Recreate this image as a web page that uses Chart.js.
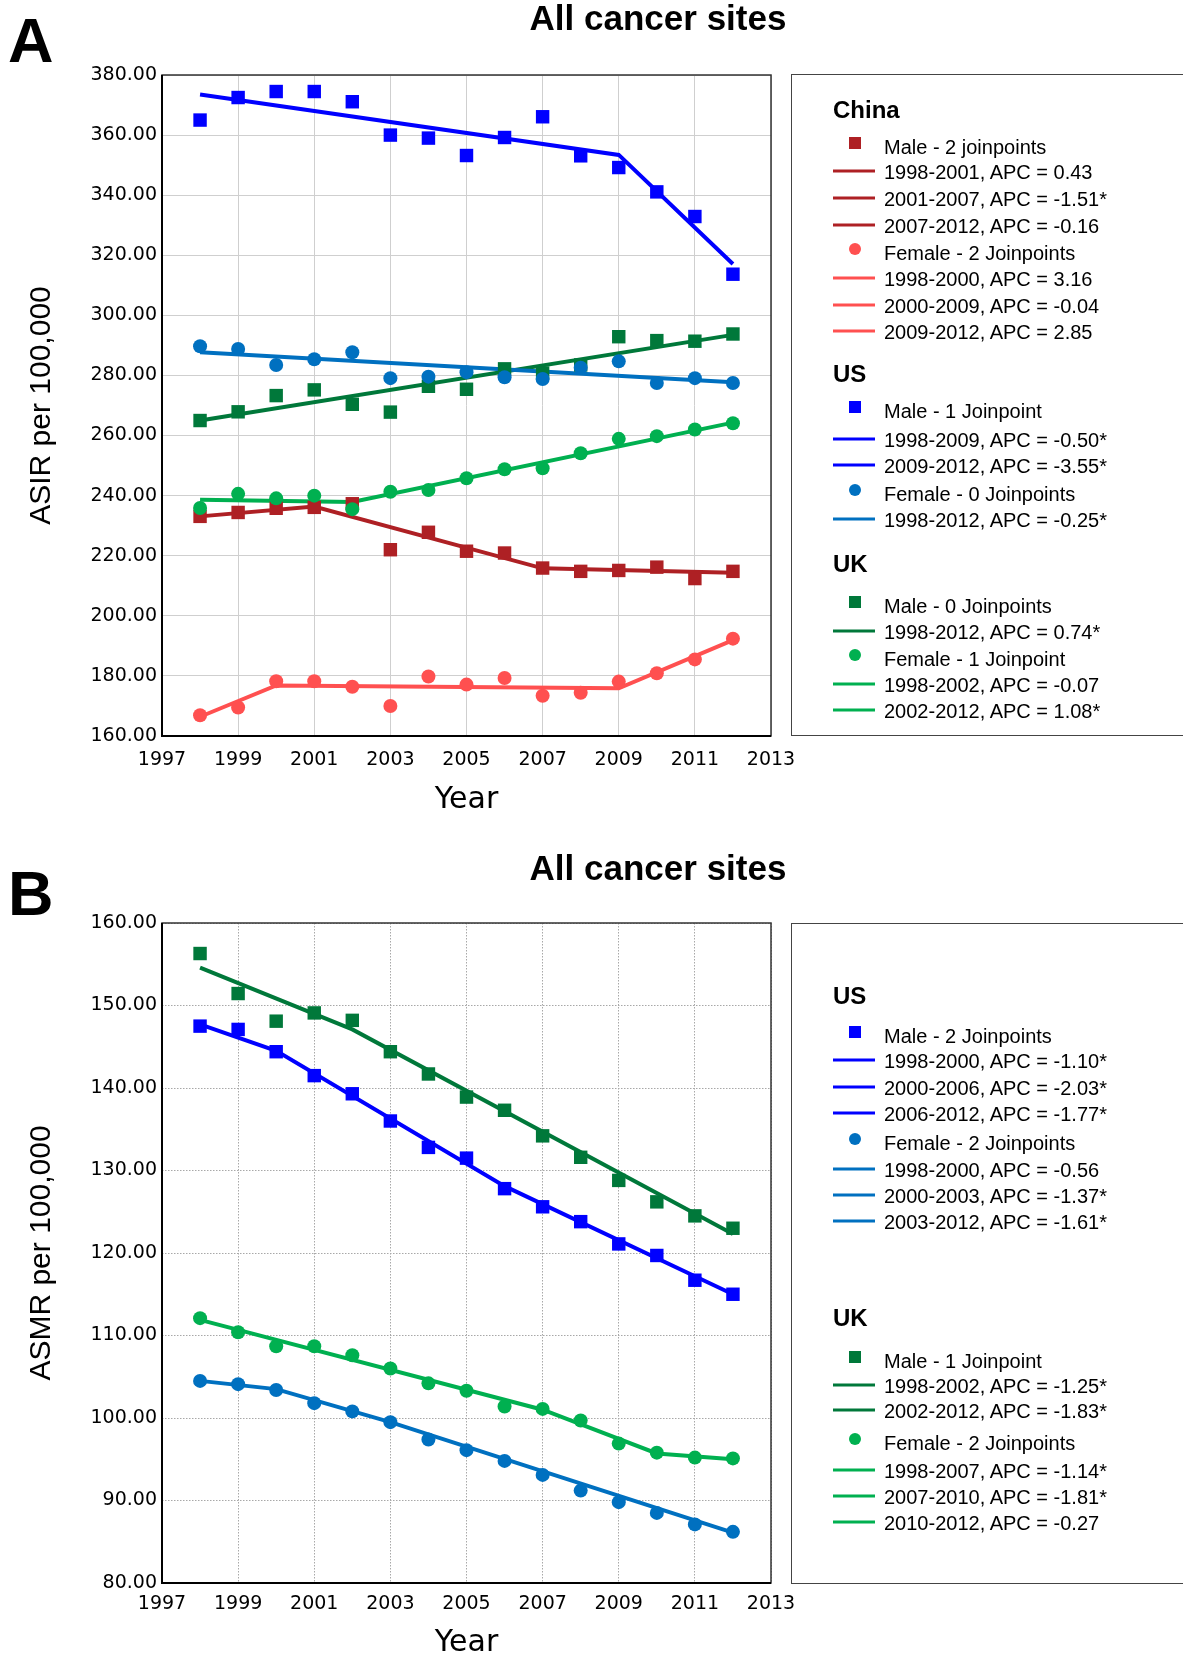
<!DOCTYPE html>
<html><head><meta charset="utf-8">
<script src="https://cdn.jsdelivr.net/npm/chart.js@4"></script>
<style>
html,body{margin:0;padding:0;background:#fff;}
body{width:1183px;height:1657px;overflow:hidden;position:relative;font-family:'Liberation Sans',Arial,sans-serif;color:#000;}
canvas{position:absolute;left:0;}
.letter{position:absolute;font-weight:bold;font-size:63px;line-height:1;}
.title{position:absolute;font-weight:bold;font-size:35px;line-height:1;transform:translate(-50%,-50%);white-space:nowrap;}
.legend{position:absolute;left:791px;width:420px;border:1.5px solid #444;box-sizing:border-box;background:transparent;}
.row{position:absolute;white-space:nowrap;line-height:1;transform:translateY(-50%);}
.txt{font-size:20px;left:92px;}
.hdr{font-size:24px;font-weight:bold;left:41px;}
.mk{position:absolute;transform:translate(-50%,-50%);}
.ln{position:absolute;height:3px;transform:translateY(-50%);}
</style>
</head><body>
<canvas id="cA" width="830" height="820" style="top:0px;width:830px;height:820px"></canvas>
<canvas id="cB" width="830" height="817" style="top:840px;width:830px;height:817px"></canvas>
<div class="letter" style="left:8px;top:9px">A</div>
<div class="letter" style="left:8px;top:862px">B</div>
<div class="title" style="left:658px;top:17px">All cancer sites</div>
<div class="title" style="left:658px;top:867px">All cancer sites</div>
<div class="legend" id="legA" style="top:74px;height:662px"></div>
<div class="legend" id="legB" style="top:923px;height:661px"></div>
<script>
// ---------- data ----------
const years = [1998,1999,2000,2001,2002,2003,2004,2005,2006,2007,2008,2009,2010,2011,2012];
const xTicks = [1997,1999,2001,2003,2005,2007,2009,2011,2013];
const yTicksA = [160,180,200,220,240,260,280,300,320,340,360,380];
const yTicksB = [80,90,100,110,120,130,140,150,160];

// Panel A: ASIR (observed)
const cnMaleA   = [233.1,234.4,235.8,236.1,237.3,222.0,227.8,221.5,220.9,215.9,214.8,215.1,216.2,212.4,214.8];
const cnFemaleA = [166.9,169.5,178.2,178.2,176.4,170.0,179.8,177.1,179.3,173.4,174.4,178.1,180.9,185.5,192.4];
const usMaleA   = [365.0,372.5,374.5,374.5,371.1,360.0,359.0,353.2,359.2,366.1,353.1,349.2,341.1,332.9,313.7];
const usFemaleA = [289.7,288.8,283.5,285.4,287.7,279.1,279.6,281.1,279.4,278.8,282.6,284.7,277.5,279.1,277.5];
const ukMaleA   = [265.0,267.9,273.3,275.2,270.4,267.8,276.4,275.4,282.2,280.8,283.5,292.9,291.6,291.4,293.8];
const ukFemaleA = [235.9,240.6,239.1,240.0,235.5,241.3,241.9,245.8,248.8,249.1,254.1,258.9,259.8,262.0,264.1];
// Panel A: joinpoint fits (years, values)
const cnMaleFitYA = [1998,2001,2007,2012],   cnMaleFitA = [233.1,236.4,215.8,214.3];
const cnFemaleFitYA = [1998,2000,2009,2012], cnFemaleFitA = [166.4,176.8,175.9,191.9];
const usMaleFitYA = [1998,2009,2012],        usMaleFitA = [373.5,353.4,317.1];
const usFemaleFitYA = [1998,2012],           usFemaleFitA = [287.7,277.7];
const ukMaleFitYA = [1998,2012],             ukMaleFitA = [265.0,293.5];
const ukFemaleFitYA = [1998,2002,2012],      ukFemaleFitA = [238.6,237.9,264.3];

// Panel B: ASMR (observed)
const usMaleB   = [147.5,147.1,144.4,141.5,139.3,136.0,132.8,131.5,127.8,125.6,123.8,121.1,119.7,116.7,115.0];
const usFemaleB = [104.5,104.1,103.4,101.8,100.8,99.5,97.4,96.1,94.8,93.1,91.2,89.8,88.5,87.1,86.2];
const ukMaleB   = [156.3,151.45,148.1,149.1,148.2,144.4,141.7,138.9,137.3,134.2,131.6,128.8,126.2,124.5,123.0];
const ukFemaleB = [112.1,110.4,108.7,108.7,107.6,106.0,104.2,103.3,101.4,101.1,99.7,96.9,95.8,95.2,95.1];
// Panel B: joinpoint fits
const usMaleFitYB = [1998,2000,2006,2012],   usMaleFitB = [147.7,144.5,128.1,115.0];
const usFemaleFitYB = [1998,2000,2003,2012], usFemaleFitB = [104.5,103.5,99.5,86.1];
const ukMaleFitYB = [1998,2002,2012],        ukMaleFitB = [154.6,147.1,122.3];
const ukFemaleFitYB = [1998,2007,2010,2012], ukFemaleFitB = [111.9,101.0,95.7,95.0];

// legend texts
const legendA = [
  ['h','','China'],
  ['rect','cnM','Male - 2 joinpoints'],
  ['line','cnM','1998-2001, APC = 0.43'],
  ['line','cnM','2001-2007, APC = -1.51*'],
  ['line','cnM','2007-2012, APC = -0.16'],
  ['circle','cnF','Female - 2 Joinpoints'],
  ['line','cnF','1998-2000, APC = 3.16'],
  ['line','cnF','2000-2009, APC = -0.04'],
  ['line','cnF','2009-2012, APC = 2.85'],
  ['h','','US'],
  ['rect','usM','Male - 1 Joinpoint'],
  ['line','usM','1998-2009, APC = -0.50*'],
  ['line','usM','2009-2012, APC = -3.55*'],
  ['circle','usF','Female - 0 Joinpoints'],
  ['line','usF','1998-2012, APC = -0.25*'],
  ['h','','UK'],
  ['rect','ukM','Male - 0 Joinpoints'],
  ['line','ukM','1998-2012, APC = 0.74*'],
  ['circle','ukF','Female - 1 Joinpoint'],
  ['line','ukF','1998-2002, APC = -0.07'],
  ['line','ukF','2002-2012, APC = 1.08*']
];
const legendB = [
  ['h','','US'],
  ['rect','usM','Male - 2 Joinpoints'],
  ['line','usM','1998-2000, APC = -1.10*'],
  ['line','usM','2000-2006, APC = -2.03*'],
  ['line','usM','2006-2012, APC = -1.77*'],
  ['circle','usF','Female - 2 Joinpoints'],
  ['line','usF','1998-2000, APC = -0.56'],
  ['line','usF','2000-2003, APC = -1.37*'],
  ['line','usF','2003-2012, APC = -1.61*'],
  ['h','','UK'],
  ['rect','ukM','Male - 1 Joinpoint'],
  ['line','ukM','1998-2002, APC = -1.25*'],
  ['line','ukM','2002-2012, APC = -1.83*'],
  ['circle','ukF','Female - 2 Joinpoints'],
  ['line','ukF','1998-2007, APC = -1.14*'],
  ['line','ukF','2007-2010, APC = -1.81*'],
  ['line','ukF','2010-2012, APC = -0.27']
];

// ---------- style / layout ----------
const COL = {cnM:'#AE2024', cnF:'#FF5050', usM:'#0000FF', usF:'#0070C0', ukM:'#00783A', ukF:'#00B050'};
const legendRowYA = [109,146,171,198,225,252,278,305,331,373,410,439,465,493,519,563,605,631,658,684,710];
const legendRowYB = [995,1035,1060,1087,1113,1142,1169,1195,1221,1317,1360,1385,1410,1442,1470,1496,1522];

function pts(xs, ys){ return xs.map((x,i)=>({x:x, y:ys[i]})); }
function obs(vals, key, style){
  const r = style==='rect'?9.5:7;
  return {data:pts(years, vals), showLine:false, pointStyle:style,
    pointRadius:r, pointHoverRadius:r,
    backgroundColor:COL[key], borderColor:COL[key], borderWidth:0, order:0};
}
function fit(xs, vals, key){
  return {data:pts(xs, vals), showLine:true, borderColor:COL[key], backgroundColor:COL[key],
    borderWidth:4, pointRadius:0, pointHoverRadius:0, tension:0, order:1};
}

const framePlugin = {id:'frame', afterDraw(chart){
  const {ctx, chartArea:a} = chart;
  ctx.save();
  ctx.strokeStyle = '#333'; ctx.lineWidth = 1.5;
  ctx.strokeRect(a.left, a.top, a.right-a.left, a.bottom-a.top);
  ctx.strokeStyle = '#000'; ctx.lineWidth = 2;
  ctx.beginPath(); ctx.moveTo(a.left, a.top); ctx.lineTo(a.left, a.bottom); ctx.lineTo(a.right, a.bottom); ctx.stroke();
  ctx.restore();
}};

function makeChart(id, datasets, yTicks, yTitle, g){
  return new Chart(document.getElementById(id), {
    type:'scatter',
    data:{datasets},
    options:{
      responsive:false, animation:false, devicePixelRatio:1,
      layout:{padding:{left:0, top:g.padTop, right:g.padRight, bottom:0}},
      plugins:{legend:{display:false}, tooltip:{enabled:false}},
      scales:{
        x:{type:'linear', min:1997, max:2013,
          afterBuildTicks:a=>{a.ticks = xTicks.map(v=>({value:v}));},
          afterFit:s=>{s.height = g.xH;},
          grid:{color:g.grid, lineWidth:1, drawTicks:false},
          border:{display:false, dash:g.dash},
          ticks:{padding:g.xPad, color:'#000', maxRotation:0, autoSkip:false,
            font:{family:'DejaVu Sans', size:19}, callback:v=>String(v)},
          title:{display:true, text:'Year', color:'#000',
            font:{family:'DejaVu Sans', size:30, lineHeight:0.9}, padding:{top:0, bottom:g.xTitlePad}}
        },
        y:{type:'linear', min:yTicks[0], max:yTicks[yTicks.length-1],
          afterBuildTicks:a=>{a.ticks = yTicks.map(v=>({value:v}));},
          afterFit:s=>{s.width = 162;},
          grid:{color:g.grid, lineWidth:1, drawTicks:false},
          border:{display:false, dash:g.dash},
          ticks:{padding:5, color:'#000', autoSkip:false,
            font:{family:'DejaVu Sans', size:19}, callback:v=>Number(v).toFixed(2)},
          title:{display:true, text:yTitle, color:'#000',
            font:{family:'Liberation Sans', size:30, lineHeight:1.2}, padding:{top:24, bottom:0}}
        }
      }
    },
    plugins:[framePlugin]
  });
}

makeChart('cA', [
  obs(usMaleA,'usM','rect'), obs(usFemaleA,'usF','circle'),
  obs(ukMaleA,'ukM','rect'), obs(ukFemaleA,'ukF','circle'),
  obs(cnMaleA,'cnM','rect'), obs(cnFemaleA,'cnF','circle'),
  fit(usMaleFitYA,usMaleFitA,'usM'), fit(usFemaleFitYA,usFemaleFitA,'usF'),
  fit(ukMaleFitYA,ukMaleFitA,'ukM'), fit(ukFemaleFitYA,ukFemaleFitA,'ukF'),
  fit(cnMaleFitYA,cnMaleFitA,'cnM'), fit(cnFemaleFitYA,cnFemaleFitA,'cnF')
], yTicksA, 'ASIR per 100,000',
 {padTop:75, padRight:59, xH:84, xPad:13, xTitlePad:6.5, grid:'#cfcfcf', dash:[]});

makeChart('cB', [
  obs(ukMaleB,'ukM','rect'), obs(usMaleB,'usM','rect'),
  obs(ukFemaleB,'ukF','circle'), obs(usFemaleB,'usF','circle'),
  fit(ukMaleFitYB,ukMaleFitB,'ukM'), fit(usMaleFitYB,usMaleFitB,'usM'),
  fit(ukFemaleFitYB,ukFemaleFitB,'ukF'), fit(usFemaleFitYB,usFemaleFitB,'usF')
], yTicksB, 'ASMR per 100,000',
 {padTop:83, padRight:59, xH:74, xPad:10, xTitlePad:0, grid:'#a8a8a8', dash:[1.5,1.5]});

function buildLegend(id, entries, rowY, boxTop){
  const box = document.getElementById(id);
  entries.forEach((e,i)=>{
    const y = rowY[i] - boxTop;
    const [type, key, text] = e;
    if(type==='h'){
      const d = document.createElement('div'); d.className='row hdr'; d.style.top=y+'px'; d.textContent=text; box.appendChild(d);
      return;
    }
    if(type==='line'){
      const l = document.createElement('div'); l.className='ln';
      l.style.left='41px'; l.style.width='42px'; l.style.top=(y-1)+'px'; l.style.background=COL[key]; box.appendChild(l);
    } else {
      const m = document.createElement('div'); m.className='mk';
      m.style.left='63px'; m.style.top=(y-4)+'px'; m.style.width='12px'; m.style.height='12px';
      m.style.background=COL[key]; if(type==='circle') m.style.borderRadius='50%';
      box.appendChild(m);
    }
    const t = document.createElement('div'); t.className='row txt'; t.style.top=y+'px'; t.textContent=text; box.appendChild(t);
  });
}
buildLegend('legA', legendA, legendRowYA, 74);
buildLegend('legB', legendB, legendRowYB, 923);
</script>
</body></html>
